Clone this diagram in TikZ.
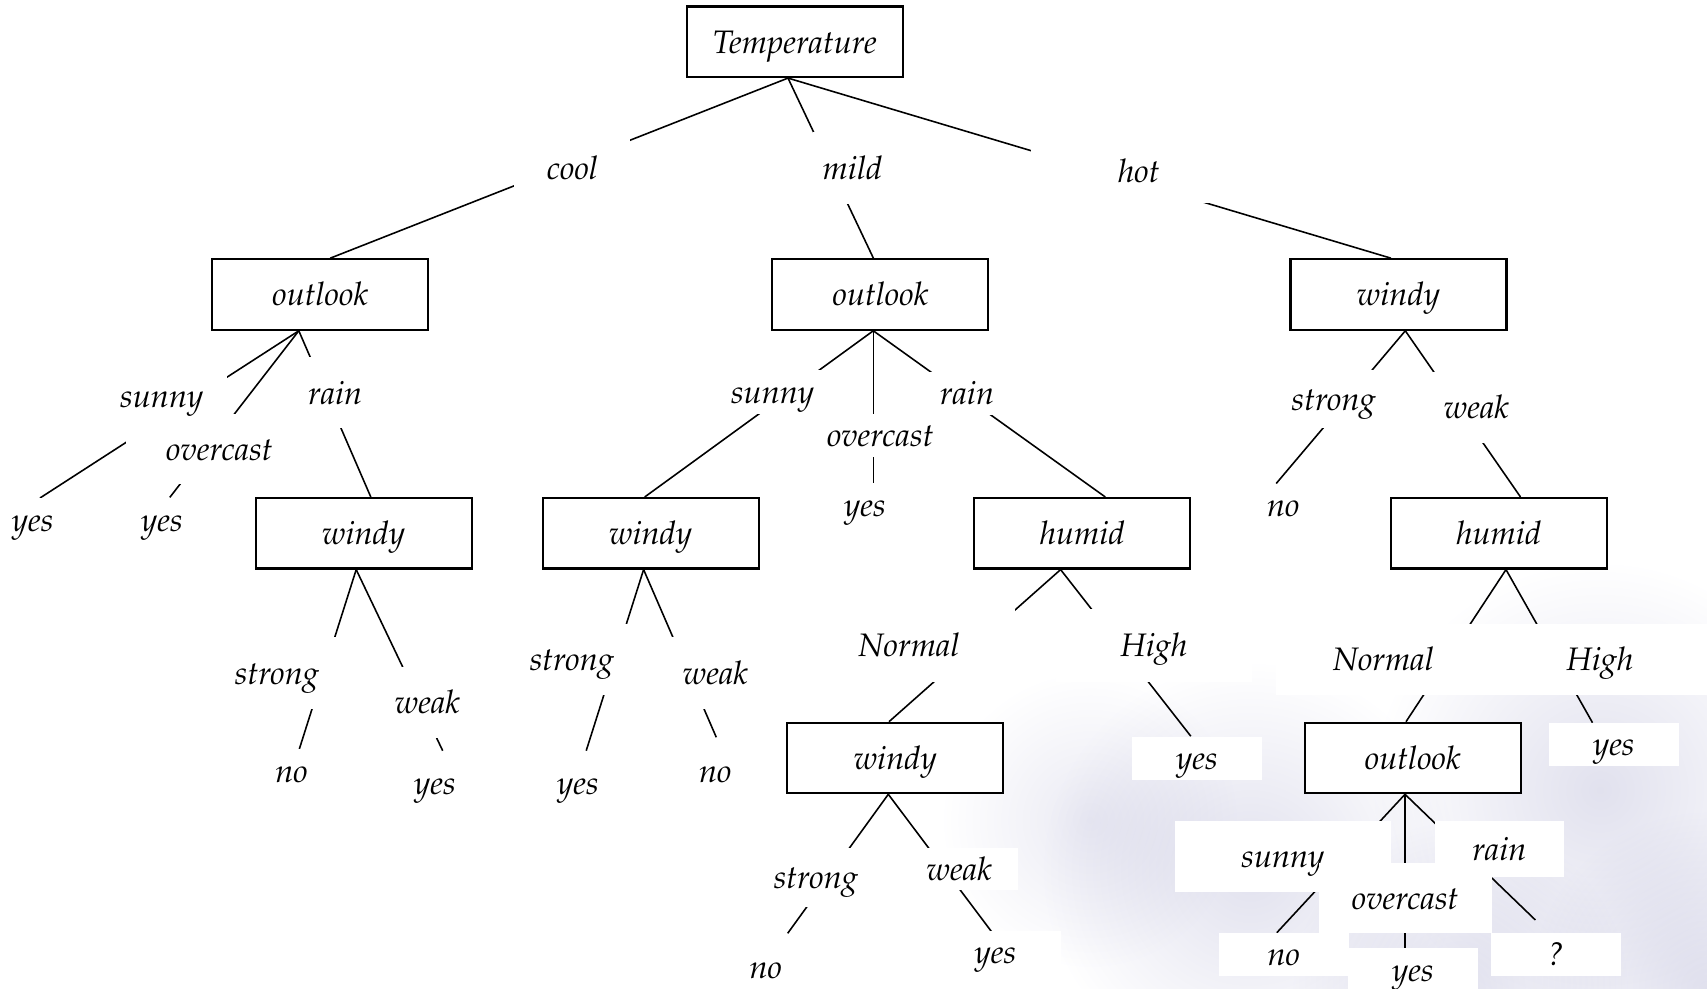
\documentclass[tikz,border=0pt]{standalone}
\usepackage[T1]{fontenc}
\usepackage{mathpazo}
\pgfdeclarelayer{bg}
\pgfdeclarelayer{edges}
\pgfsetlayers{bg,edges,main}
\definecolor{haze}{RGB}{225,225,238}
\tikzset{
	box/.style={draw, line width=1.2pt, fill=white, inner sep=0pt, minimum width=4.32cm, minimum height=1.41cm, text height=1.3em, text depth=0pt},
	lbl/.style 2 args={fill=white, inner sep=0pt, text height=1.3em, text depth=0pt, minimum width=#1*0.02cm, minimum height=#2*0.02cm},
	leaf/.style={lbl={130}{43}},
	edge/.style={line width=0.9pt}
}

\begin{document}
\begin{tikzpicture}[x=0.02cm,y=-0.02cm,font=\fontsize{18.5}{22}\selectfont\itshape]
		\useasboundingbox (0,0) rectangle (1707,989);
		\begin{pgfonlayer}{bg}
			\fill [white](0,0) rectangle (1707,989);
			\begin{scope}[blend mode=multiply]
				\shade [inner color=haze, outer color=white](1600,790) circle (230);
				\shade [inner color=haze, outer color=white](1250,870) circle (210);
				\shade [inner color=haze, outer color=white](1460,989) circle (170);
				\shade [inner color=haze, outer color=white](1707,989) circle (180);
				\shade [inner color=haze!70, outer color=white](1090,820) circle (150);
			\end{scope}
		\end{pgfonlayer}

		\node [box](Temperature) at (794.8,41.8) {Temperature};
		\node [box](OutlookCool) at (320.2,294.5) {outlook};
		\node [box](OutlookMild) at (880.4,294.5) {outlook};
		\node [box](WindyHot) at (1398.5,294.5) {windy};
		\node [box](WindyCool) at (363.6,533.3) {windy};
		\node [box](WindyMild) at (650.7,533.3) {windy};
		\node [box](HumidMild) at (1082.3,533.3) {humid};
		\node [box](HumidHot) at (1498.8,533.3) {humid};
		\node [box](WindyNormal) at (895.3,758) {windy};
		\node [box](OutlookNormal) at (1412.7,758) {outlook};

		\node [lbl={116}{60}](Cool) at (572.4,168) {cool};
		\node [lbl={80}{71.5}](Mild) at (852.5,168) {mild};
		\node [lbl={215}{64}](Hot) at (1138.9,171) {hot};

		\node [lbl={187.4}{70.5}](OvercastCool) at (219.5,449) {overcast};
		\node [lbl={131}{40}](SunnyCool) at (161.8,396) {sunny};
		\node [lbl={80}{70.5}](RainCool) at (335.2,392.7) {rain};
		\node [lbl={120}{71.7}](StrongCool) at (277,673.2) {strong};
		\node [lbl={80}{71}](WeakCool) at (427.4,702.5) {weak};

		\node [lbl={96}{44.4}](SunnyMild) at (772.6,392.3) {sunny};
		\node [lbl={120}{42.8}](OvercastMild) at (880.3,435.2) {overcast};
		\node [lbl={76}{43.6}](RainMild) at (967,393.4) {rain};
		\node [lbl={114}{71.6}](StrongMild) at (571.9,659.3) {strong};
		\node [lbl={90}{71.7}](WeakMild) at (715.4,673.2) {weak};
		\node [lbl={212}{72.7}](NormalMild) at (909,645.4) {Normal};
		\node [lbl={196}{72.4}](HighMild) at (1154,645.5) {High};

		\node [lbl={90}{58.2}](StrongHot) at (1333.8,399.2) {strong};
		\node [lbl={90}{71.2}](WeakHot) at (1476.4,407.2) {weak};
		\node [lbl={214.6}{71.5}](NormalHot) at (1383.3,659.3) {Normal};
		\node [lbl={218.8}{71.5}](HighHot) at (1600,659.3) {High};

		\node [lbl={96}{58.4}](StrongNormal) at (815.9,877.5) {strong};
		\node [lbl={117}{42}](WeakNormal) at (959.2,869.2) {weak};
		\node [lbl={216}{70.7}](SunnyNormal) at (1282.9,856.4) {sunny};
		\node [lbl={173}{70}](OvercastNormal) at (1405.2,898.3) {overcast};
		\node [lbl={129}{56.3}](RainNormal) at (1499.4,849.2) {rain};

		\node [leaf](YesSunnyCool) at (32.7,519.8) {yes};
		\node [leaf](YesOvercastCool) at (162,519.8) {yes};
		\node [leaf](NoStrongCool) at (291.5,770.6) {no};
		\node [leaf](YesWeakCool) at (435,783) {yes};
		\node [leaf](YesOvercastMild) at (865,505.3) {yes};
		\node [leaf](YesStrongMild) at (578,783.3) {yes};
		\node [leaf](NoWeakMild) at (715.4,770.6) {no};
		\node [leaf](YesHighMild) at (1197,758.4) {yes};
		\node [leaf](NoStrongHot) at (1283.4,505.3) {no};
		\node [leaf](YesHighHot) at (1613.8,744.5) {yes};
		\node [leaf](NoStrongNormal) at (765.9,967.3) {no};
		\node [leaf](YesWeakNormal) at (995.5,952.3) {yes};
		\node [leaf](NoSunnyNormal) at (1283.8,954.4) {no};
		\node [leaf](YesOvercastNormal) at (1412.9,969.8) {yes};
		\node [leaf](Unknown) at (1556.2,954.4) {?};

		\begin{pgfonlayer}{edges}
			\draw [edge]([shift={(-6.8,0)}]Temperature.south)--([shift={(10,0)}]OutlookCool.north);
			\draw [edge]([shift={(-6.8,0)}]Temperature.south)--([shift={(-7,0)}]OutlookMild.north);
			\draw [edge]([shift={(-6.8,0)}]Temperature.south)--([shift={(-7.5,0)}]WindyHot.north);

			\draw [edge]([shift={(-21.4,0)}]OutlookCool.south)--([shift={(7.3,-21.8)}]YesSunnyCool.center);
			\draw [edge]([shift={(-21.4,0)}]OutlookCool.south)--([shift={(7.8,-22.4)}]YesOvercastCool.center);
			\draw [edge]([shift={(-21.4,0)}]OutlookCool.south)--([shift={(7.2,0)}]WindyCool.north);
			\draw [edge]([shift={(-7.4,0)}]WindyCool.south)--([shift={(7.3,-19.9)}]NoStrongCool.center);
			\draw [edge]([shift={(-7.4,0)}]WindyCool.south)--([shift={(7.7,-32.3)}]YesWeakCool.center);

			\draw [edge]([shift={(-7.1,0)}]OutlookMild.south)--([shift={(-6,0)}]WindyMild.north);
			\draw [edge]([shift={(-7.1,0)}]OutlookMild.south)--([shift={(8.3,-22.5)}]YesOvercastMild.center);
			\draw [edge]([shift={(-7.1,0)}]OutlookMild.south)--([shift={(23,0)}]HumidMild.north);
			\draw [edge]([shift={(-7.1,0)}]WindyMild.south)--([shift={(8.2,-32.6)}]YesStrongMild.center);
			\draw [edge]([shift={(-7.1,0)}]WindyMild.south)--([shift={(0.9,-33.3)}]NoWeakMild.center);
			\draw [edge]([shift={(-21.7,0)}]HumidMild.south)--([shift={(-6.3,0)}]WindyNormal.north);
			\draw [edge]([shift={(-21.7,0)}]HumidMild.south)--([shift={(-6.2,-22.2)}]YesHighMild.center);

			\draw [edge]([shift={(6.8,0)}]WindyHot.south)--([shift={(-7.2,-21.8)}]NoStrongHot.center);
			\draw [edge]([shift={(6.8,0)}]WindyHot.south)--([shift={(21.7,0)}]HumidHot.north);
			\draw [edge]([shift={(7.2,0)}]HumidHot.south)--([shift={(-6.7,0)}]OutlookNormal.north);
			\draw [edge]([shift={(7.2,0)}]HumidHot.south)--([shift={(-21.3,-21.8)}]YesHighHot.center);

			\draw [edge]([shift={(-7,0)}]WindyNormal.south)--([shift={(21.8,-34)}]NoStrongNormal.center);
			\draw [edge]([shift={(-7,0)}]WindyNormal.south)--([shift={(-3.2,-19.6)}]YesWeakNormal.center);
			\draw [edge]([shift={(-7.7,0)}]OutlookNormal.south)--([shift={(-7,-21.7)}]NoSunnyNormal.center);
			\draw [edge]([shift={(-7.7,0)}]OutlookNormal.south)--([shift={(-7.9,-21.5)}]YesOvercastNormal.center);
			\draw [edge]([shift={(-7.7,0)}]OutlookNormal.south)--([shift={(-20.8,-34.4)}]Unknown.center);
		\end{pgfonlayer}
	\end{tikzpicture}
\end{document}
